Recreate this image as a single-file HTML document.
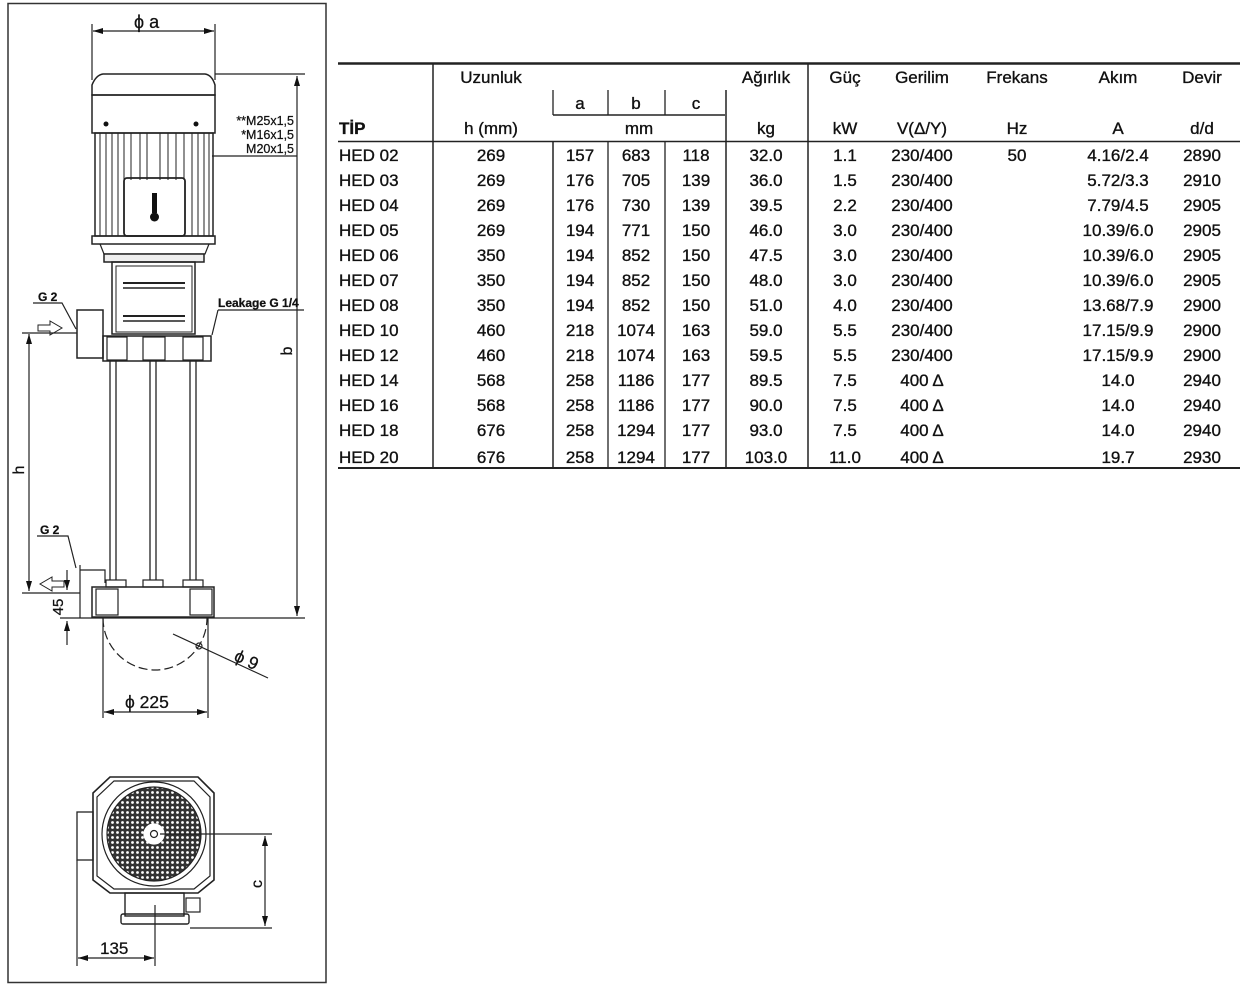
<!DOCTYPE html>
<html><head><meta charset="utf-8">
<style>
html,body{margin:0;padding:0;background:#fff;}
svg{display:block;}
.t{font-family:"Liberation Sans",sans-serif;font-size:17px;fill:#111;stroke:#111;stroke-width:0.35;}
.s{font-family:"Liberation Sans",sans-serif;fill:#111;stroke:#111;stroke-width:0.25;}
</style></head><body>
<svg width="1246" height="988" viewBox="0 0 1246 988" xmlns="http://www.w3.org/2000/svg">
<defs>
<marker id="ar" markerWidth="10" markerHeight="6" refX="10" refY="3" orient="auto" markerUnits="userSpaceOnUse"><path d="M0,0 L10,3 L0,6 z" fill="#111"/></marker>
<marker id="al" markerWidth="10" markerHeight="6" refX="0" refY="3" orient="auto" markerUnits="userSpaceOnUse"><path d="M10,0 L0,3 L10,6 z" fill="#111"/></marker>
<pattern id="dots" width="5" height="5" patternUnits="userSpaceOnUse"><rect width="5" height="5" fill="#333"/><circle cx="2.5" cy="2.5" r="1.4" fill="#fff"/></pattern>
</defs>
<rect x="8" y="3.5" width="318" height="979" fill="none" stroke="#333" stroke-width="1.5"/>
<g stroke="#222" fill="none" stroke-width="1.2">
<line x1="92" y1="24" x2="92" y2="80"/><line x1="215" y1="24" x2="215" y2="80"/>
<line x1="93" y1="31" x2="214" y2="31" marker-start="url(#al)" marker-end="url(#ar)"/>
<path d="M92,95 L92,85 Q96,75 103,74 L205,74 Q212,75 215,85 L215,95 Z" stroke-width="1.5"/>
<rect x="92" y="95" width="123" height="38" stroke-width="1.5"/>
<rect x="95" y="133" width="118" height="103" stroke-width="1.5"/>
<path d="M100,133V236M106,133V236M112,133V236M118,133V236M124,133V180M131,133V180M140,133V180M147,133V180M160,133V180M168,133V180M176,133V180M184,133V180M192,133V236M198,133V236M204,133V236M209,133V236" stroke-width="1"/>
<rect x="124" y="178" width="61" height="58" rx="3" stroke-width="1.8"/>
<rect x="92" y="236" width="123" height="8" stroke-width="1.5"/>
<path d="M100,244 L104,254 L205,254 L209,244"/>
<rect x="104" y="254" width="100" height="8" stroke-width="1.5" fill="#eee"/>
<rect x="112" y="262" width="83" height="72" stroke-width="1.5"/>
<rect x="116" y="266" width="76" height="66" stroke-width="1"/>
<line x1="123" y1="283" x2="185" y2="283" stroke-width="2"/><line x1="123" y1="288" x2="185" y2="288" stroke-width="1.5"/>
<line x1="123" y1="316" x2="185" y2="316" stroke-width="2"/><line x1="123" y1="321" x2="185" y2="321" stroke-width="1.5"/>
<rect x="77" y="310" width="26" height="48" stroke-width="1.5"/>
<rect x="103" y="336" width="108" height="25" stroke-width="1.5"/>
<rect x="107" y="337" width="20" height="23"/><rect x="143" y="337" width="22" height="23"/><rect x="183" y="337" width="20" height="23"/>
<path d="M110,361V580M116,361V580M150,361V580M156,361V580M190,361V580M196,361V580" stroke-width="1.3"/>
<path d="M80,565 L80,618 M80,570 L105,570 L105,583"/>
<rect x="106" y="580" width="20" height="7"/><rect x="143" y="580" width="20" height="7"/><rect x="183" y="580" width="20" height="7"/>
<rect x="92" y="587" width="122" height="30" stroke-width="1.5"/>
<rect x="96" y="589" width="22" height="26"/><rect x="190" y="589" width="22" height="26"/>
<path d="M103,618 A52,52 0 0 0 207,618" stroke-dasharray="9,4"/>
<line x1="103" y1="618" x2="103" y2="718"/><line x1="208" y1="618" x2="208" y2="718"/>
<line x1="104" y1="712" x2="207" y2="712" marker-start="url(#al)" marker-end="url(#ar)"/>
<line x1="173" y1="634" x2="268" y2="678"/>
<circle cx="199" cy="646" r="3" />
<line x1="215" y1="74" x2="305" y2="74"/>
<line x1="297" y1="76" x2="297" y2="616" marker-start="url(#al)" marker-end="url(#ar)"/>
<line x1="60" y1="618" x2="305" y2="618"/>
<line x1="212" y1="156" x2="297" y2="156"/>
<line x1="22" y1="333" x2="77" y2="333"/>
<line x1="29" y1="334" x2="29" y2="591" marker-start="url(#al)" marker-end="url(#ar)"/>
<line x1="22" y1="593" x2="80" y2="593"/>
<line x1="67" y1="570" x2="67" y2="590" marker-end="url(#ar)"/>
<line x1="67" y1="645" x2="67" y2="621" marker-end="url(#ar)"/>
<path d="M38,325 L50,325 L50,321 L62,328 L50,335 L50,331 L38,331 Z" stroke-width="1"/>
<path d="M64,581 L52,581 L52,577 L40,584 L52,591 L52,587 L64,587 Z" stroke-width="1"/>
<path d="M33,303 L62,303 L76,329"/>
<path d="M37,536 L68,536 L76,568"/>
<path d="M218,310 L304,310 M218,310 L212,335"/>
<path d="M110,777 L198,777 L214,793 L214,880 L198,893 L110,893 L93,880 L93,793 Z" stroke-width="1.6"/>
<path d="M114,781 L194,781 L210,797 L210,876 L194,889 L114,889 L97,876 L97,797 Z"/>
<rect x="77" y="812" width="16" height="48" stroke-width="1.3"/>
<circle cx="154" cy="834" r="52"/>
<circle cx="154" cy="834" r="47" fill="url(#dots)"/>
<circle cx="154" cy="834" r="10" fill="#fff" stroke="#fff"/>
<circle cx="154" cy="834" r="3.5"/>
<rect x="125" y="893" width="59" height="23" stroke-width="1.4"/>
<rect x="121" y="914" width="68" height="10" rx="2" stroke-width="1.4"/>
<rect x="186" y="898" width="14" height="14"/>
<line x1="160" y1="834" x2="272" y2="834"/><line x1="190" y1="928" x2="272" y2="928"/>
<line x1="265" y1="836" x2="265" y2="926" marker-start="url(#al)" marker-end="url(#ar)"/>
<line x1="77" y1="860" x2="77" y2="966"/><line x1="155" y1="905" x2="155" y2="966"/>
<line x1="78" y1="958" x2="154" y2="958" marker-start="url(#al)" marker-end="url(#ar)"/>
</g>
<g fill="#111">
<circle cx="106" cy="124" r="2.5"/><circle cx="196" cy="124" r="2.5"/>
<rect x="152" y="193" width="5" height="20"/><circle cx="154.5" cy="217" r="4.5"/>
</g>
<g class="s">
<text x="134" y="28" font-size="18">ϕ a</text>
<text x="294" y="125" font-size="12.5" text-anchor="end">**M25x1,5</text>
<text x="294" y="139" font-size="12.5" text-anchor="end">*M16x1,5</text>
<text x="294" y="153" font-size="12.5" text-anchor="end">M20x1,5</text>
<text x="38" y="301" font-size="12" font-weight="bold">G 2</text>
<text x="40" y="534" font-size="12" font-weight="bold">G 2</text>
<text x="218" y="307" font-size="12" font-weight="bold">Leakage G 1/4</text>
<text x="0" y="0" font-size="16" transform="translate(292,351) rotate(-90)" text-anchor="middle">b</text>
<text x="0" y="0" font-size="16" transform="translate(24,470) rotate(-90)" text-anchor="middle">h</text>
<text x="0" y="0" font-size="15" transform="translate(63,607) rotate(-90)" text-anchor="middle">45</text>
<text x="0" y="0" font-size="16" transform="translate(262,884) rotate(-90)" text-anchor="middle">c</text>
<text x="125" y="708" font-size="17.5">ϕ 225</text>
<text x="0" y="0" font-size="17.5" transform="translate(233,660) rotate(25)">ϕ 9</text>
<text x="100" y="954" font-size="17">135</text>
</g>
<g stroke="#222" fill="none">
<line x1="338" y1="63.5" x2="1240" y2="63.5" stroke-width="2.5"/>
<line x1="338" y1="141.5" x2="1240" y2="141.5" stroke-width="1.5"/>
<line x1="338" y1="468" x2="1240" y2="468" stroke-width="2"/>
<line x1="553" y1="115" x2="725" y2="115" stroke-width="1.5"/>
<line x1="433" y1="63" x2="433" y2="468" stroke-width="1.5"/>
<line x1="808" y1="63" x2="808" y2="468" stroke-width="1.5"/>
<line x1="553" y1="90" x2="553" y2="115" stroke-width="1.3"/>
<line x1="608" y1="90" x2="608" y2="115" stroke-width="1.3"/>
<line x1="665" y1="90" x2="665" y2="115" stroke-width="1.3"/>
<line x1="726" y1="90" x2="726" y2="468" stroke-width="1.5"/>
<line x1="553" y1="141" x2="553" y2="468" stroke-width="1.5"/>
<line x1="608" y1="141" x2="608" y2="468" stroke-width="1.3"/>
<line x1="665" y1="141" x2="665" y2="468" stroke-width="1.3"/>
</g>
<g class="t" text-anchor="middle">
<text x="491" y="83">Uzunluk</text><text x="766" y="83">Ağırlık</text><text x="845" y="83">Güç</text><text x="922" y="83">Gerilim</text><text x="1017" y="83">Frekans</text><text x="1118" y="83">Akım</text><text x="1202" y="83">Devir</text>
<text x="580" y="109">a</text><text x="636" y="109">b</text><text x="696" y="109">c</text>
<text x="491" y="134">h (mm)</text><text x="639" y="134">mm</text><text x="766" y="134">kg</text><text x="845" y="134">kW</text><text x="922" y="134">V(Δ/Y)</text><text x="1017" y="134">Hz</text><text x="1118" y="134">A</text><text x="1202" y="134">d/d</text>
</g>
<text class="t" x="339" y="134" font-weight="bold">TİP</text>
<g class="t">
<g text-anchor="start">
<text x="339" y="161">HED 02</text><text x="339" y="186">HED 03</text><text x="339" y="211">HED 04</text><text x="339" y="236">HED 05</text><text x="339" y="261">HED 06</text><text x="339" y="286">HED 07</text><text x="339" y="311">HED 08</text><text x="339" y="336">HED 10</text><text x="339" y="361">HED 12</text><text x="339" y="386">HED 14</text><text x="339" y="411">HED 16</text><text x="339" y="436">HED 18</text><text x="339" y="463">HED 20</text>
</g>
<g text-anchor="middle">
<text x="491" y="161">269</text><text x="491" y="186">269</text><text x="491" y="211">269</text><text x="491" y="236">269</text><text x="491" y="261">350</text><text x="491" y="286">350</text><text x="491" y="311">350</text><text x="491" y="336">460</text><text x="491" y="361">460</text><text x="491" y="386">568</text><text x="491" y="411">568</text><text x="491" y="436">676</text><text x="491" y="463">676</text>
<text x="580" y="161">157</text><text x="580" y="186">176</text><text x="580" y="211">176</text><text x="580" y="236">194</text><text x="580" y="261">194</text><text x="580" y="286">194</text><text x="580" y="311">194</text><text x="580" y="336">218</text><text x="580" y="361">218</text><text x="580" y="386">258</text><text x="580" y="411">258</text><text x="580" y="436">258</text><text x="580" y="463">258</text>
<text x="636" y="161">683</text><text x="636" y="186">705</text><text x="636" y="211">730</text><text x="636" y="236">771</text><text x="636" y="261">852</text><text x="636" y="286">852</text><text x="636" y="311">852</text><text x="636" y="336">1074</text><text x="636" y="361">1074</text><text x="636" y="386">1186</text><text x="636" y="411">1186</text><text x="636" y="436">1294</text><text x="636" y="463">1294</text>
<text x="696" y="161">118</text><text x="696" y="186">139</text><text x="696" y="211">139</text><text x="696" y="236">150</text><text x="696" y="261">150</text><text x="696" y="286">150</text><text x="696" y="311">150</text><text x="696" y="336">163</text><text x="696" y="361">163</text><text x="696" y="386">177</text><text x="696" y="411">177</text><text x="696" y="436">177</text><text x="696" y="463">177</text>
<text x="766" y="161">32.0</text><text x="766" y="186">36.0</text><text x="766" y="211">39.5</text><text x="766" y="236">46.0</text><text x="766" y="261">47.5</text><text x="766" y="286">48.0</text><text x="766" y="311">51.0</text><text x="766" y="336">59.0</text><text x="766" y="361">59.5</text><text x="766" y="386">89.5</text><text x="766" y="411">90.0</text><text x="766" y="436">93.0</text><text x="766" y="463">103.0</text>
<text x="845" y="161">1.1</text><text x="845" y="186">1.5</text><text x="845" y="211">2.2</text><text x="845" y="236">3.0</text><text x="845" y="261">3.0</text><text x="845" y="286">3.0</text><text x="845" y="311">4.0</text><text x="845" y="336">5.5</text><text x="845" y="361">5.5</text><text x="845" y="386">7.5</text><text x="845" y="411">7.5</text><text x="845" y="436">7.5</text><text x="845" y="463">11.0</text>
<text x="922" y="161">230/400</text><text x="922" y="186">230/400</text><text x="922" y="211">230/400</text><text x="922" y="236">230/400</text><text x="922" y="261">230/400</text><text x="922" y="286">230/400</text><text x="922" y="311">230/400</text><text x="922" y="336">230/400</text><text x="922" y="361">230/400</text><text x="922" y="386">400 Δ</text><text x="922" y="411">400 Δ</text><text x="922" y="436">400 Δ</text><text x="922" y="463">400 Δ</text>
<text x="1017" y="161">50</text>
<text x="1118" y="161">4.16/2.4</text><text x="1118" y="186">5.72/3.3</text><text x="1118" y="211">7.79/4.5</text><text x="1118" y="236">10.39/6.0</text><text x="1118" y="261">10.39/6.0</text><text x="1118" y="286">10.39/6.0</text><text x="1118" y="311">13.68/7.9</text><text x="1118" y="336">17.15/9.9</text><text x="1118" y="361">17.15/9.9</text><text x="1118" y="386">14.0</text><text x="1118" y="411">14.0</text><text x="1118" y="436">14.0</text><text x="1118" y="463">19.7</text>
<text x="1202" y="161">2890</text><text x="1202" y="186">2910</text><text x="1202" y="211">2905</text><text x="1202" y="236">2905</text><text x="1202" y="261">2905</text><text x="1202" y="286">2905</text><text x="1202" y="311">2900</text><text x="1202" y="336">2900</text><text x="1202" y="361">2900</text><text x="1202" y="386">2940</text><text x="1202" y="411">2940</text><text x="1202" y="436">2940</text><text x="1202" y="463">2930</text>
</g>
</g>
</svg>
</body></html>
